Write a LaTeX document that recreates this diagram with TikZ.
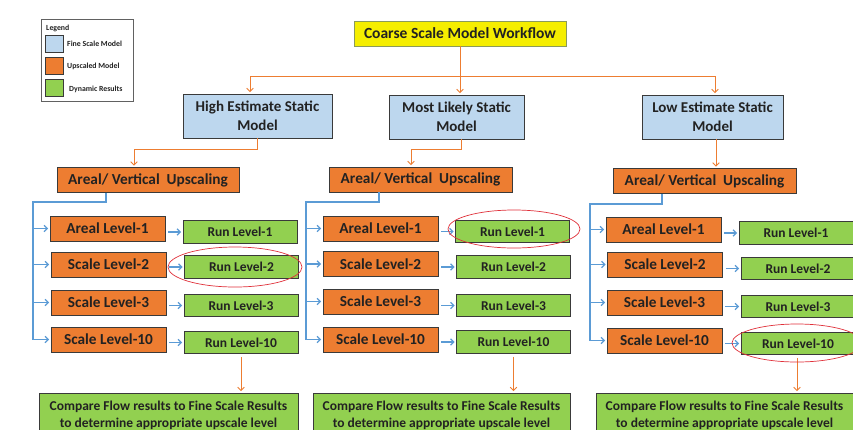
\documentclass[tikz,border=0pt]{standalone}
\usepackage{fontspec}
\setmainfont{Carlito}
\usetikzlibrary{arrows.meta}

\definecolor{fineblue}{HTML}{BDD7EE}
\definecolor{upor}{HTML}{ED7D31}
\definecolor{dyngreen}{HTML}{92D050}
\definecolor{titley}{HTML}{F5EE00}
\definecolor{titleb}{HTML}{8A9A5B}
\definecolor{boxline}{HTML}{3A3A3A}
\definecolor{txt}{HTML}{222222}
\definecolor{linkblue}{HTML}{5B9BD5}
\definecolor{ringred}{HTML}{E0303A}

\tikzset{
  box/.style={draw=boxline, line width=0.9pt, inner sep=0pt, align=center,
              text=txt, font=\bfseries},
  finebox/.style={box, fill=fineblue, font=\fontsize{15}{18.5}\selectfont\bfseries},
  upbox/.style={box, fill=upor, minimum height=25pt,
                font=\fontsize{15.3}{17}\selectfont\bfseries},
  lvlbox/.style={upbox, minimum width=115pt},
  runbox/.style={box, fill=dyngreen, minimum width=114pt, minimum height=22.5pt,
                 font=\fontsize{13.5}{15}\selectfont\bfseries},
  cmpbox/.style={box, fill=dyngreen, minimum height=45pt,
                 font=\fontsize{13.5}{17}\selectfont\bfseries},
  tip/.style={-{Straight Barb[length=3.2pt,width=6.5pt]}},
  oline/.style={draw=upor, line width=0.9pt},
  oarrow/.style={oline, tip, shorten >=1.5pt},
  bline/.style={draw=linkblue, line width=1.2pt},
  barrow/.style={bline, tip, shorten >=1.5pt},
  ring/.style={draw=ringred, line width=0.7pt},
  legsw/.style={draw=boxline, line width=0.9pt, minimum width=17.5pt,
                minimum height=17pt, inner sep=0pt},
  legtxt/.style={anchor=west, inner sep=0pt, text=txt,
                 font=\fontsize{7.8}{9}\selectfont\bfseries},
}

\begin{document}
\begin{tikzpicture}[x=1pt, y=-1pt]
\useasboundingbox (0,0) rectangle (853,429);
\clip (0,0) rectangle (853,429);
\fill[white] (0,0) rectangle (853,429);

% ---- legend ----
\node[draw=boxline!80, line width=0.8pt, minimum width=92pt, minimum height=82pt,
      inner sep=0pt] (legend) at (87,60) {};
\node[legtxt] (legtitle) at (46,28.5) {Legend};
\node[legsw, fill=fineblue] (swfine) at (54.5,43.5) {};
\node[legsw, fill=upor]     (swup)   at (54.5,65.5) {};
\node[legsw, fill=dyngreen] (swdyn)  at (54.5,88) {};
\node[legtxt] (lgfine) at (67,44) {Fine Scale Model};
\node[legtxt] (lgup)   at (67,66.5) {Upscaled Model};
\node[legtxt] (lgdyn)  at (69,89) {Dynamic Results};

% ---- top level ----
\node[box, fill=titley, draw=titleb, minimum width=212pt, minimum height=25pt,
      font=\fontsize{15.5}{18}\selectfont\bfseries] (title) at (460,33.5)
      {Coarse Scale Model Workflow};

\node[finebox, minimum width=149pt, minimum height=44pt] (hi) at (257.5,116)
      {High Estimate Static\\Model};
\node[finebox, minimum width=135pt, minimum height=44pt] (ml) at (456.5,117)
      {Most Likely Static\\Model};
\node[finebox, minimum width=141pt, minimum height=44pt] (lo) at (712.5,117)
      {Low Estimate Static\\Model};

\coordinate (busL) at (250,76);
\coordinate (busR) at (715,76);
\draw[oline] (busL) -- (busR);
\draw[oarrow] (title.south) -- (title.south |- ml.north);
\draw[oarrow] (busL) -- (busL |- hi.north);
\draw[oarrow] (busR) -- (busR |- lo.north);

% ---- upscaling boxes ----
\node[upbox, minimum width=182pt] (up1) at (148,180) {Areal/ Vertical\ \ Upscaling};
\node[upbox, minimum width=183pt] (up2) at (420.5,179.5) {Areal/ Vertical\ \ Upscaling};
\node[upbox, minimum width=183pt] (up3) at (704.5,181) {Areal/ Vertical\ \ Upscaling};

\coordinate (k1) at (134,149);
\coordinate (k2) at (411,149);
\draw[oarrow] (hi.south) |- (k1) -- (k1 |- up1.north);
\draw[oarrow] ([xshift=4.5pt]ml.south) |- (k2) -- (k2 |- up2.north);
\draw[oarrow] ([xshift=3.5pt]lo.south) -- ([xshift=3.5pt]lo.south |- up3.north);

% ---- column: high estimate ----
\node[lvlbox] (a1) at (107.5,228.5) {Areal Level-1};
\node[lvlbox] (a2) at (108.5,264.5) {Scale Level-2};
\node[lvlbox] (a3) at (108.5,302.5) {Scale Level-3};
\node[lvlbox] (a10) at (108.5,339.5) {Scale Level-10};
\node[runbox] (ra1) at (240,232) {Run Level-1};
\node[runbox] (ra2) at (241.5,267) {Run Level-2};
\node[runbox] (ra3) at (241,305.5) {Run Level-3};
\node[runbox] (ra10) at (241,342.5) {Run Level-10};
\node[cmpbox, minimum width=259pt] (ca) at (168.5,415.5)
      {Compare Flow results to Fine Scale Results\\to determine appropriate upscale level};

\coordinate (sa) at (33,202);
\draw[bline] ([xshift=-42pt]up1.south) |- (sa) -- (sa |- a10.west);
\foreach \n in {a1,a2,a3,a10} \draw[barrow] (sa |- \n.west) -- (\n.west);
\foreach \n/\r in {a1/ra1,a2/ra2,a3/ra3,a10/ra10}
  \draw[barrow, shorten <=3pt] (\n.east |- \r.west) -- (\r.west);
\draw[oarrow, shorten <=3pt] (ra10.south) -- (ra10.south |- ca.north);
\draw[ring] (235,267) ellipse [x radius=67pt, y radius=20pt];

% ---- column: most likely ----
\node[lvlbox] (b1) at (380.5,228.5) {Areal Level-1};
\node[lvlbox] (b2) at (380.5,264) {Scale Level-2};
\node[lvlbox] (b3) at (380.5,301.5) {Scale Level-3};
\node[lvlbox] (b10) at (380.5,339.5) {Scale Level-10};
\node[runbox] (rb1) at (512.5,231.5) {Run Level-1};
\node[runbox] (rb2) at (513.5,267) {Run Level-2};
\node[runbox] (rb3) at (513.5,305.5) {Run Level-3};
\node[runbox] (rb10) at (513.5,342) {Run Level-10};
\node[cmpbox, minimum width=257pt] (cb) at (441.5,415.5)
      {Compare Flow results to Fine Scale Results\\to determine appropriate upscale level};

\coordinate (sb) at (306,202);
\draw[bline] ([xshift=-41.5pt]up2.south) |- (sb) -- (sb |- b10.west);
\foreach \n in {b1,b2,b3,b10} \draw[barrow] (sb |- \n.west) -- (\n.west);
\foreach \n/\r in {b1/rb1,b2/rb2,b3/rb3,b10/rb10}
  \draw[barrow, shorten <=3pt] (\n.east |- \r.west) -- (\r.west);
\draw[oarrow, shorten <=3pt] (rb10.south) -- (rb10.south |- cb.north);
\draw[ring] (514,229) ellipse [x radius=66pt, y radius=19pt];

% ---- column: low estimate ----
\node[lvlbox] (c1) at (663.5,229.5) {Areal Level-1};
\node[lvlbox] (c2) at (665,264.5) {Scale Level-2};
\node[lvlbox] (c3) at (664.5,302.5) {Scale Level-3};
\node[lvlbox] (c10) at (664.5,340.5) {Scale Level-10};
\node[runbox] (rc1) at (796,233) {Run Level-1};
\node[runbox] (rc2) at (798,268.5) {Run Level-2};
\node[runbox] (rc3) at (798,306.5) {Run Level-3};
\node[runbox] (rc10) at (798,343.5) {Run Level-10};
\node[cmpbox, minimum width=257pt] (cc) at (724.5,415.5)
      {Compare Flow results to Fine Scale Results\\to determine appropriate upscale level};

\coordinate (sc) at (590,204);
\draw[bline] ([xshift=-42.5pt]up3.south) |- (sc) -- (sc |- c10.west);
\foreach \n in {c1,c2,c3,c10} \draw[barrow] (sc |- \n.west) -- (\n.west);
\foreach \n/\r in {c1/rc1,c2/rc2,c3/rc3,c10/rc10}
  \draw[barrow, shorten <=3pt] (\n.east |- \r.west) -- (\r.west);
\draw[oarrow, shorten <=3pt] ([xshift=-1pt]rc10.south) -- ([xshift=-1pt]rc10.south |- cc.north);
\draw[ring] (797,343) ellipse [x radius=65pt, y radius=19pt];
\end{tikzpicture}
\end{document}
